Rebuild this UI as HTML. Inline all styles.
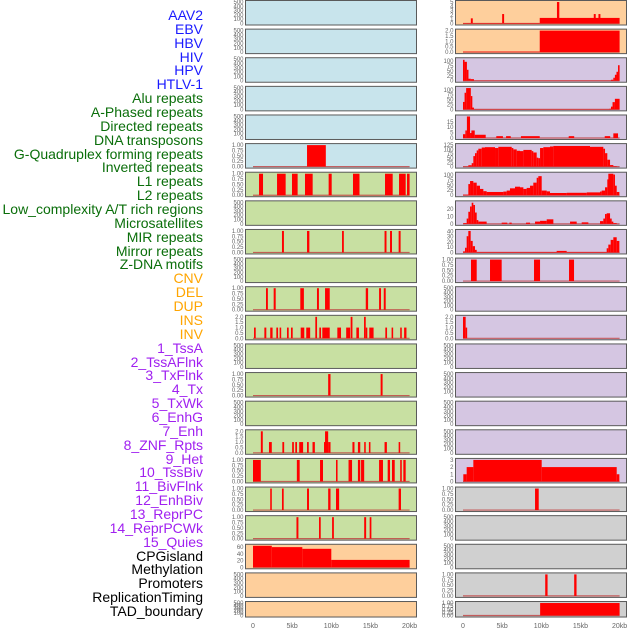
<!DOCTYPE html>
<html><head><meta charset="utf-8">
<style>
html,body{margin:0;padding:0;background:#fff;}
#wrap{position:relative;width:630px;height:630px;overflow:hidden;font-family:"Liberation Sans",sans-serif;}
.lbl{position:absolute;right:427px;font-size:14px;line-height:14px;white-space:nowrap;}
svg{position:absolute;left:0;top:0;}
</style></head>
<body>
<div id="wrap">
<svg id="chart" width="630" height="630"></svg>
</div>
<script>
// ---- track names & colours ----
const trackNames = ["AAV2","EBV","HBV","HIV","HPV","HTLV-1","Alu repeats","A-Phased repeats","Directed repeats","DNA transposons","G-Quadruplex forming repeats","Inverted repeats","L1 repeats","L2 repeats","Low_complexity A/T rich regions","Microsatellites","MIR repeats","Mirror repeats","Z-DNA motifs","CNV","DEL","DUP","INS","INV","1_TssA","2_TssAFlnk","3_TxFlnk","4_Tx","5_TxWk","6_EnhG","7_Enh","8_ZNF_Rpts","9_Het","10_TssBiv","11_BivFlnk","12_EnhBiv","13_ReprPC","14_ReprPCWk","15_Quies","CPGisland","Methylation","Promoters","ReplicationTiming","TAD_boundary"];
const trackGroups = [0,0,0,0,0,0,1,1,1,1,1,1,1,1,1,1,1,1,1,2,2,2,2,2,3,3,3,3,3,3,3,3,3,3,3,3,3,3,3,4,4,4,4,4];
const xTickLabels = ["0","5kb","10kb","15kb","20kb"];
const xTickValues = [0,5,10,15,20];

// ---- tick label sets ----
const ticksEmpty = [0,100,200,300,400,500];
const ticksUnit = [0,0.25,0.5,0.75,1];
const ticksTwo = [0,0.5,1,1.5,2];

// ---- left column panel data: [startKb, endKb, value] ----
const L5 = [[6.9,9.3,1]];
const L6 = [[0.77,1.28,1],[3.07,4.17,1],[4.98,5.7,1],[6.64,7.62,1],[9.66,10.05,1],[12.77,13.6,1],[16.86,17.84,1],[18.65,19.5,1],[19.67,20.0,1]];
const L8 = [[3.7,3.95,1],[6.9,7.2,1],[11.37,11.6,1],[16.8,17.05,1],[17.5,17.75,1],[18.6,18.85,1]];
const L10 = [[1.66,1.9,1],[2.64,2.9,1],[6.04,6.5,1],[8.17,8.42,1],[9.2,9.8,1],[14.4,14.7,1],[16.1,16.35,1],[16.7,16.95,1]];
const L11 = [[0.13,0.35,1],[1.45,1.7,1],[2.2,2.5,1],[2.98,3.2,1],[3.4,3.6,1],[4.34,4.56,1],[4.85,5.07,1],[6.09,6.55,1],[6.8,7.3,1],[7.96,8.18,2],[8.47,8.69,1],[8.85,9.8,1],[10.77,11.24,1],[11.9,12.4,1],[12.47,12.7,2],[13.2,13.53,1],[14.18,14.4,2],[14.4,14.6,1],[14.85,15.4,1],[16.9,17.12,1],[17.7,17.9,1],[18.8,19.0,1],[19.3,19.6,1]];
const L13 = [[9.6,9.9,1],[16.3,16.55,1]];
const L15 = [[1.0,1.25,2],[2.04,2.4,1],[3.75,3.98,1],[5.0,5.22,1],[5.4,5.62,1],[5.9,6.4,1],[6.9,7.12,1],[7.6,7.9,1],[9.07,9.2,1],[9.2,9.6,2],[9.6,9.9,1],[12.7,12.96,1],[13.4,13.7,1],[14.2,14.4,1],[14.8,15.0,1],[16.8,17.1,1],[18.6,18.8,1]];
const L16 = [[0.0,1.0,1],[5.6,5.96,1],[8.56,8.94,1],[10.6,10.8,1],[12.2,12.65,1],[13.4,13.7,1],[13.8,14.2,1],[16.1,16.6,1],[17.2,17.5,1],[17.75,18.1,1],[18.8,19.0,1],[19.2,19.5,1]];
const L17 = [[2.2,2.4,1],[3.7,3.92,1],[6.9,7.15,1],[9.6,9.9,1],[10.6,11.0,1],[18.6,18.9,1]];
const L18 = [[5.55,5.8,1],[8.43,8.65,1],[10.1,10.33,1],[14.2,14.45,1],[14.9,15.12,1]];
const L19 = [[0,2.4,64],[2.4,6.3,60],[6.3,10.0,55],[10.0,20.0,22]];

// ---- right column panel data ----
const R0 = [[0,9.8,0.1],[1.0,1.25,1.2],[5.0,5.25,2.2],[9.8,20.0,1.3],[12.0,12.3,5],[16.7,16.95,2.2],[17.3,17.55,2.2]];
const R1 = [[0,9.8,0.05],[9.8,20.0,2.0]];
const R2 = [[0,0.2,105],[0.2,0.5,95],[0.5,0.7,55],[0.7,1.0,10],[1.0,1.4,8],[1.4,18.9,1],[18.9,19.2,5],[19.2,19.4,15],[19.4,19.6,30],[19.6,19.8,45],[19.8,20.0,78]];
const R3 = [[0,0.2,38],[0.2,0.4,85],[0.4,1.0,109],[1.0,1.1,68],[1.1,1.4,9],[1.4,18.7,1],[18.7,18.9,3],[18.9,19.1,14],[19.1,19.4,37],[19.4,20.0,54]];
const R4 = [[0,0.3,3.5],[0.3,0.5,7],[0.5,0.9,20],[0.9,1.07,4.6],[1.07,1.5,7],[1.5,2.9,3],[4.25,5.1,1.7],[5.5,6.1,1.7],[7.4,9.8,1.7],[13.5,14.2,1.7],[18.1,18.8,1.7],[19.2,19.8,4.3]];
const R5 = [[0,0.68,1],[0.68,1.11,8],[1.11,1.32,20],[1.32,1.53,61],[1.53,1.75,78],[1.75,1.96,94],[1.96,2.39,104],[2.39,2.81,111],[2.81,4.09,113],[4.09,4.51,108],[4.51,6.22,115],[6.22,6.43,108],[6.43,6.86,100],[6.86,7.28,92],[7.28,7.71,90],[7.71,8.77,97],[8.77,8.98,90],[8.98,9.41,82],[9.41,9.62,52],[9.62,9.84,49],[9.84,10.26,108],[10.26,11.11,113],[11.11,11.54,117],[11.54,16.22,120],[16.22,17.92,115],[17.92,18.14,104],[18.14,18.43,78],[18.43,18.78,40],[18.78,19.2,9],[19.2,19.63,3]];
const R6 = [[0,0.68,3],[0.68,0.9,55],[0.9,1.32,70],[1.32,1.75,62],[1.75,2.17,47],[2.17,2.6,31],[2.6,3.02,20],[3.02,5.15,16],[5.15,5.58,18],[5.58,6.0,23],[6.0,6.64,34],[6.64,7.28,42],[7.28,7.71,39],[7.71,8.13,31],[8.13,8.56,36],[8.56,8.98,47],[8.98,9.41,62],[9.41,9.62,86],[9.62,10.05,94],[10.05,10.69,23],[10.69,11.11,19],[11.11,13.24,11],[13.24,15.8,12],[15.8,17.5,14],[17.5,17.71,18],[17.71,18.14,23],[18.14,18.43,39],[18.43,18.56,78],[18.56,19.2,106],[19.2,19.41,102],[19.41,19.63,47],[19.63,19.97,16]];
const R7 = [[0.04,0.47,1],[0.47,0.68,7],[0.68,0.9,16],[0.9,1.11,23],[1.11,1.32,28],[1.32,1.53,25],[1.53,1.75,15],[1.75,1.96,5],[1.96,3.02,3],[4.94,5.66,1.6],[5.92,6.22,1.6],[8.05,8.56,1.6],[9.2,9.84,3],[9.84,10.69,4],[10.69,11.54,6],[13.67,14.52,3],[15.16,16.01,2],[17.5,17.92,3.6],[17.92,18.14,7],[18.14,18.35,13],[18.35,18.78,14],[18.78,18.99,7],[18.99,19.2,3],[19.2,19.63,1]];
const R8 = [[0,0.26,2],[0.26,0.47,9],[0.47,0.68,31],[0.68,0.98,41],[0.98,1.24,22],[1.24,1.53,12],[1.53,1.75,5],[1.75,11.96,1],[11.96,13.24,3],[13.24,18.35,1],[18.35,18.56,8],[18.56,18.86,15],[18.86,19.2,24],[19.2,19.63,29],[19.63,19.97,22]];
const R9 = [[1.02,1.75,1],[3.45,4.94,1],[9.07,9.84,1],[13.54,14.18,1]];
const R11 = [[0,0.34,2],[0.34,0.47,1]];
const R16 = [[0.04,0.47,1],[0.47,1.32,2],[1.32,10.05,3],[10.05,19.63,2],[19.63,19.97,1]];
const R17 = [[9.2,9.67,1]];
const R20 = [[10.5,10.8,1],[14.2,14.5,1]];
const R21 = [[9.85,20.0,1]];

const C = {blue:"#c8e4ec",green:"#c8e0a2",orange:"#fecf9c",purple:"#d5c6e2",gray:"#d0d0d0"};
const leftPanels = [
 {c:"blue",d:null},{c:"blue",d:null},{c:"blue",d:null},{c:"blue",d:null},{c:"blue",d:null},
 {c:"blue",d:L5,t:ticksUnit,m:1,f:2},
 {c:"green",d:L6,t:ticksUnit,m:1,f:2},{c:"green",d:null},
 {c:"green",d:L8,t:ticksUnit,m:1,f:2},{c:"green",d:null},
 {c:"green",d:L10,t:ticksUnit,m:1,f:2},
 {c:"green",d:L11,t:ticksTwo,m:2,f:1},{c:"green",d:null},
 {c:"green",d:L13,t:ticksUnit,m:1,f:2},{c:"green",d:null},
 {c:"green",d:L15,t:ticksTwo,m:2,f:1},
 {c:"green",d:L16,t:ticksUnit,m:1,f:2},
 {c:"green",d:L17,t:ticksUnit,m:1,f:2},
 {c:"green",d:L18,t:ticksUnit,m:1,f:2},
 {c:"orange",d:L19,t:[0,20,40,60],m:64,f:0},
 {c:"orange",d:null},{c:"orange",d:null}
];
const rightPanels = [
 {c:"orange",d:R0,t:[0,1,2,3,4,5],m:5,f:0},
 {c:"orange",d:R1,t:ticksTwo,m:2,f:1},
 {c:"purple",d:R2,t:[0,25,50,75,100],m:108,f:0},
 {c:"purple",d:R3,t:[0,25,50,75,100],m:110,f:0},
 {c:"purple",d:R4,t:[0,5,10,15],m:20,f:0},
 {c:"purple",d:R5,t:[0,25,50,75,100,125],m:125,f:0},
 {c:"purple",d:R6,t:[0,25,50,75,100],m:106,f:0},
 {c:"purple",d:R7,t:[0,10,20],m:28.5,f:0},
 {c:"purple",d:R8,t:[0,10,20,30,40],m:41,f:0},
 {c:"purple",d:R9,t:ticksUnit,m:1,f:2},
 {c:"purple",d:null},
 {c:"purple",d:R11,t:ticksTwo,m:2,f:1},
 {c:"purple",d:null},{c:"purple",d:null},{c:"purple",d:null},{c:"purple",d:null},
 {c:"purple",d:R16,t:[0,1,2,3],m:3,f:0},
 {c:"gray",d:R17,t:ticksUnit,m:1,f:2},
 {c:"gray",d:null},{c:"gray",d:null},
 {c:"gray",d:R20,t:ticksUnit,m:1,f:2},
 {c:"gray",d:R21,t:ticksUnit,m:1,f:2}
];

const NS="http://www.w3.org/2000/svg";
const svg=document.getElementById("chart");
const wrap=document.getElementById("wrap");
const groupColors=["#1a1aff","#0a6e0a","#ffa500","#a020f0","#000000"];
function mk(tag,attrs){const e=document.createElementNS(NS,tag);for(const k in attrs)e.setAttribute(k,attrs[k]);return e;}

// labels
trackNames.forEach((n,i)=>{
  const d=document.createElement("div");
  d.className="lbl";
  d.style.top=(8+i*13.86)+"px";
  d.style.color=groupColors[trackGroups[i]];
  d.textContent=n;
  
  
  wrap.appendChild(d);
});

function xScale(col,kb){return (col===0?253:463)+kb*7.83;}
function drawPanel(col,i,p){
  const left=col===0?245.5:455.5, w=171;
  const top=0.5+i*28.62, h=(i===21)?15.5:24.5;
  const g=mk("g",{});
  
  
  const bg=mk("rect",{x:left,y:top,width:w,height:h,fill:C[p.c],stroke:"#5a5a5a","stroke-width":1});
  
  
  g.appendChild(bg);
  const y0=top+h-1.5, y1=top+1.5;
  const ticks=p.d?p.t:ticksEmpty, ymax=p.d?p.m:500;
  const yS=v=>y0-(v/ymax)*(y0-y1);
  ticks.forEach(tv=>{
    const t=mk("text",{x:left-2,y:yS(tv)+2,"font-size":6,"text-anchor":"end",fill:"#666","font-family":"Liberation Sans, sans-serif"});
    t.textContent=p.d?tv.toFixed(p.f):String(tv);
    
    
    g.appendChild(t);
  });
  if(p.d){
    const bl=mk("line",{x1:xScale(col,0),x2:xScale(col,20),y1:y0,y2:y0,stroke:"#c04040","stroke-width":1.2,opacity:0.8});
    
    
    g.appendChild(bl);
    p.d.forEach(s=>{
      const x=xScale(col,s[0]), x2=xScale(col,s[1]);
      const r=mk("rect",{x:x,y:yS(s[2]),width:Math.max(1.5,x2-x),height:y0-yS(s[2]),fill:"#ff0000"});
      
      
      g.appendChild(r);
    });
  }
  svg.appendChild(g);
}
leftPanels.forEach((p,i)=>drawPanel(0,i,p));
rightPanels.forEach((p,i)=>drawPanel(1,i,p));
[0,1].forEach(col=>{
  xTickValues.forEach((v,k)=>{
    const t=mk("text",{x:xScale(col,v),y:628,"font-size":7,"text-anchor":"middle",fill:"#666","font-family":"Liberation Sans, sans-serif"});
    t.textContent=xTickLabels[k];
    
    
    svg.appendChild(t);
  });
});
</script>
</body></html>
